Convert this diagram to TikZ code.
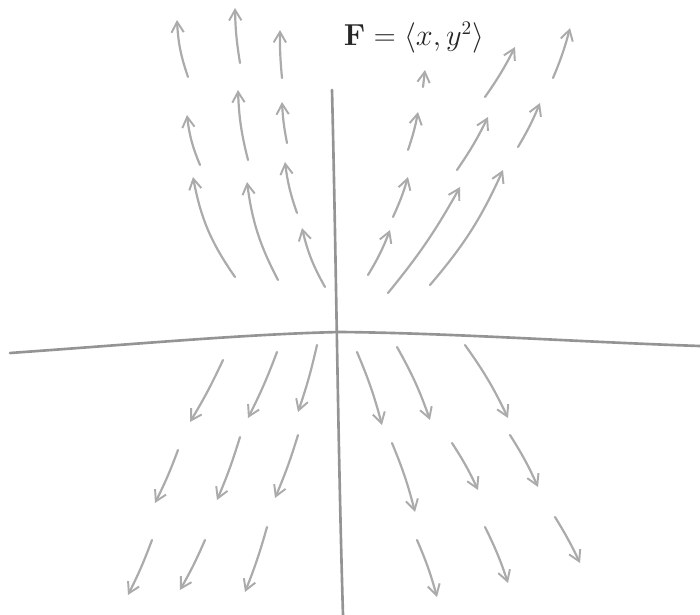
\documentclass[tikz,border=0pt]{standalone}
\usetikzlibrary{arrows.meta}
\begin{document}
\begin{tikzpicture}[x=0.02cm,y=-0.02cm,
  axisline/.style={draw=black!42,line width=1.5pt,line cap=round},
  vec/.style={draw=black!33,line width=1.25pt,line cap=round,line join=round,
    -{Straight Barb[length=6pt,width=7pt,line width=1.1pt]}},
  title/.style={font=\fontsize{16}{19}\selectfont,text=black!85}]
\useasboundingbox (0,0) rectangle (700,615);
% axes
\draw[axisline] (10,353) .. controls (150,343) and (250,334) .. (340,332)
  .. controls (450,333) and (580,342) .. (700,346);
\draw[axisline] (332,90) .. controls (336,250) and (338,450) .. (343,615);
% title
\node[title] (ttl) at (414,38) {$\mathbf{F}=\langle x,y^2\rangle$};
% upper left
\draw[vec] (188,77) to[bend left=8] (177,20);
\draw[vec] (240,63) to[bend left=4] (235,8);
\draw[vec] (282,78) to[bend left=3] (280,30);
\draw[vec] (200,165) to[bend left=8] (187,115);
\draw[vec] (248,160) to[bend left=6] (238,90);
\draw[vec] (287,143) to[bend left=4] (282,102);
\draw[vec] (235,277) to[bend left=12] (193,177);
\draw[vec] (278,280) to[bend left=10] (247,182);
\draw[vec] (297,213) to[bend left=6] (285,162);
\draw[vec] (325,287) to[bend left=8] (302,228);
% upper right
\draw[vec] (423,87) -- (425,70);
\draw[vec] (408,150) to[bend right=4] (418,112);
\draw[vec] (393,217) to[bend right=4] (408,177);
\draw[vec] (368,275) to[bend right=5] (390,230);
\draw[vec] (388,293) to[bend right=5] (460,187);
\draw[vec] (457,170) to[bend right=4] (488,117);
\draw[vec] (485,97) to[bend right=4] (515,47);
\draw[vec] (430,285) to[bend right=8] (503,170);
\draw[vec] (518,147) to[bend right=4] (540,103);
\draw[vec] (553,78) to[bend right=4] (570,28);
% lower left
\draw[vec] (223,360) to[bend left=3] (190,422);
\draw[vec] (277,352) to[bend left=3] (248,418);
\draw[vec] (317,345) to[bend left=3] (298,412);
\draw[vec] (178,450) to[bend left=3] (155,503);
\draw[vec] (240,437) to[bend left=3] (217,500);
\draw[vec] (298,435) to[bend left=3] (275,498);
\draw[vec] (152,540) to[bend left=3] (128,595);
\draw[vec] (205,540) to[bend left=3] (180,590);
\draw[vec] (267,527) to[bend left=3] (245,592);
% lower right
\draw[vec] (357,352) to[bend left=4] (382,425);
\draw[vec] (397,347) to[bend left=5] (430,420);
\draw[vec] (465,345) to[bend left=5] (508,418);
\draw[vec] (392,443) to[bend left=4] (415,512);
\draw[vec] (452,443) to[bend left=4] (478,490);
\draw[vec] (510,435) to[bend left=4] (538,487);
\draw[vec] (417,540) to[bend left=4] (437,597);
\draw[vec] (485,527) to[bend left=4] (508,583);
\draw[vec] (555,517) to[bend left=3] (580,563);
\end{tikzpicture}
\end{document}
